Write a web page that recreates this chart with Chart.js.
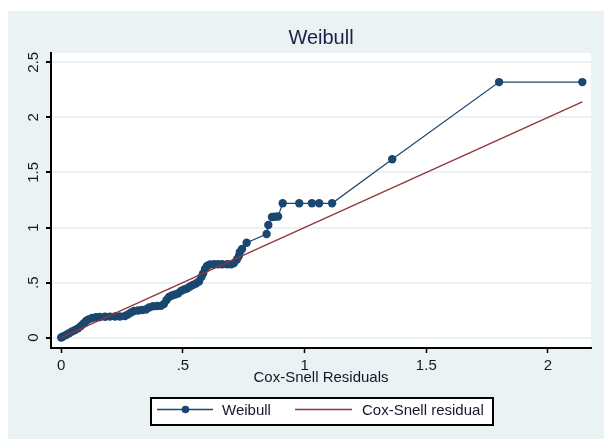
<!DOCTYPE html>
<html>
<head>
<meta charset="utf-8">
<script src="https://cdn.jsdelivr.net/npm/chart.js@4/dist/chart.umd.min.js"></script>
<style>
  html, body { margin: 0; padding: 0; background: #ffffff; }
  #wrap { width: 604px; height: 439px; position: relative; }
  canvas { display: block; }
</style>
</head>
<body>
<div id="wrap"><canvas id="c" width="604" height="439"></canvas></div>
<script>
// Cox-Snell residuals (x) and Nelson-Aalen cumulative hazard of the residuals (y)
const csResid = [
  0.000, 0.007, 0.020, 0.032, 0.044, 0.057, 0.069, 0.081, 0.092, 0.102,
  0.112, 0.127, 0.143, 0.159, 0.180, 0.200, 0.221, 0.241, 0.262, 0.274,
  0.287, 0.299, 0.316, 0.332, 0.348, 0.361, 0.377, 0.394, 0.410, 0.422,
  0.433, 0.443, 0.455, 0.468, 0.480, 0.492, 0.505, 0.517, 0.529, 0.541,
  0.554, 0.566, 0.576, 0.583, 0.591, 0.599, 0.611, 0.628, 0.644, 0.661,
  0.682, 0.698, 0.710, 0.722, 0.730, 0.734, 0.743, 0.762, 0.844, 0.851,
  0.866, 0.878, 0.891, 0.910, 0.978, 1.030, 1.060, 1.113, 1.360, 1.799,
  2.141
];
const cumHazard = [
  0.002, 0.011, 0.025, 0.040, 0.056, 0.070, 0.085, 0.106, 0.129, 0.152,
  0.165, 0.179, 0.185, 0.188, 0.190, 0.191, 0.192, 0.193, 0.197, 0.211,
  0.229, 0.242, 0.247, 0.251, 0.256, 0.274, 0.285, 0.288, 0.289, 0.306,
  0.342, 0.369, 0.383, 0.392, 0.401, 0.424, 0.437, 0.446, 0.465, 0.478,
  0.492, 0.510, 0.551, 0.583, 0.623, 0.651, 0.664, 0.666, 0.666, 0.666,
  0.666, 0.667, 0.678, 0.710, 0.741, 0.778, 0.805, 0.862, 0.941, 1.023,
  1.095, 1.098, 1.100, 1.220, 1.220, 1.220, 1.220, 1.220, 1.619, 2.320,
  2.320
];
// 45-degree reference line (residual against itself)
const refLineX = [0.000, 2.141];
const refLineY = [0.000, 2.141];

const xTicks = [0, 0.5, 1, 1.5, 2];
const yTicks = [0, 0.5, 1, 1.5, 2, 2.5];
const seriesNames = ['Weibull', 'Cox-Snell residual'];
const chartTitle = 'Weibull';
const xAxisTitle = 'Cox-Snell Residuals';

const FONT = "'Liberation Sans', Arial, Helvetica, sans-serif";
const NAVY = '#1a476f';
const MAROON = '#90353b';
const PANEL = '#eaf2f3';
const INK = '#16162a';

// Stata-style labels: drop the leading zero (".5")
const fmt = v => String(v).replace(/^0\./, '.');

const toPoints = (xs, ys) => xs.map((x, i) => ({ x: x, y: ys[i] }));

const decor = {
  id: 'decor',
  beforeDraw(chart) {
    const { ctx, chartArea: a } = chart;
    ctx.save();
    ctx.fillStyle = '#ffffff';
    ctx.fillRect(0, 0, chart.width, chart.height);
    ctx.fillStyle = PANEL;
    ctx.fillRect(8, 11, chart.width - 8, chart.height - 11);
    ctx.fillStyle = '#ffffff';
    ctx.fillRect(a.left, a.top, a.right - a.left, a.bottom - a.top);
    ctx.restore();
  },
  afterDraw(chart) {
    const { ctx, chartArea: a } = chart;
    const ys = chart.scales.y;
    ctx.save();

    // title
    ctx.fillStyle = '#1e1e46';
    ctx.font = '20px ' + FONT;
    ctx.textAlign = 'center';
    ctx.textBaseline = 'middle';
    ctx.fillText(chartTitle, (a.left + a.right) / 2, 38);

    // rotated y tick labels
    ctx.fillStyle = INK;
    ctx.font = '15px ' + FONT;
    ys.ticks.forEach(t => {
      const py = ys.getPixelForValue(t.value);
      ctx.save();
      ctx.translate(38, py);
      ctx.rotate(-Math.PI / 2);
      ctx.textAlign = 'center';
      ctx.textBaseline = 'alphabetic';
      ctx.fillText(fmt(t.value), 0, 0);
      ctx.restore();
    });

    // x axis title
    ctx.textAlign = 'center';
    ctx.textBaseline = 'middle';
    ctx.fillText(xAxisTitle, (a.left + a.right) / 2, 378);

    // legend
    const lx = 151, ly = 398, lw = 342, lh = 27;
    ctx.fillStyle = '#ffffff';
    ctx.fillRect(lx, ly, lw, lh);
    ctx.strokeStyle = '#000000';
    ctx.lineWidth = 2;
    ctx.strokeRect(lx, ly, lw, lh);

    const my = 409.5;
    ctx.strokeStyle = NAVY;
    ctx.lineWidth = 1.3;
    ctx.beginPath(); ctx.moveTo(157, my); ctx.lineTo(213, my); ctx.stroke();
    ctx.fillStyle = NAVY;
    ctx.beginPath(); ctx.arc(185.5, my, 3.8, 0, Math.PI * 2); ctx.fill();

    ctx.strokeStyle = MAROON;
    ctx.beginPath(); ctx.moveTo(295, my); ctx.lineTo(352, my); ctx.stroke();

    ctx.fillStyle = INK;
    ctx.font = '15px ' + FONT;
    ctx.textAlign = 'left';
    ctx.textBaseline = 'middle';
    ctx.fillText(seriesNames[0], 222, 411);
    ctx.fillText(seriesNames[1], 362, 411);

    ctx.restore();
  }
};

new Chart(document.getElementById('c'), {
  type: 'scatter',
  data: {
    datasets: [
      {
        label: seriesNames[0],
        data: toPoints(csResid, cumHazard),
        showLine: true,
        borderColor: NAVY,
        borderWidth: 1.2,
        backgroundColor: NAVY,
        pointRadius: 4.2,
        pointBorderWidth: 0,
        pointBackgroundColor: NAVY,
        order: 1
      },
      {
        label: seriesNames[1],
        data: toPoints(refLineX, refLineY),
        showLine: true,
        borderColor: MAROON,
        borderWidth: 1.3,
        pointRadius: 0,
        order: 0
      }
    ]
  },
  options: {
    responsive: false,
    animation: false,
    devicePixelRatio: 1,
    layout: { padding: { left: 0, top: 53, right: 13, bottom: 0 }, autoPadding: false },
    plugins: { legend: { display: false }, title: { display: false }, tooltip: { enabled: false } },
    scales: {
      x: {
        type: 'linear',
        min: -0.0419,
        max: 2.1767,
        afterBuildTicks: s => { s.ticks = xTicks.map(v => ({ value: v })); },
        afterFit: s => { s.height = 91; },
        ticks: {
          callback: v => fmt(v),
          font: { family: FONT, size: 15 },
          color: INK,
          padding: 4,
          maxRotation: 0,
          autoSkip: false
        },
        grid: { drawOnChartArea: false, drawTicks: true, tickLength: 5, tickColor: '#000', tickWidth: 1.5 },
        border: { display: true, color: '#000', width: 2 }
      },
      y: {
        type: 'linear',
        min: -0.0935,
        max: 2.584,
        afterBuildTicks: s => { s.ticks = yTicks.map(v => ({ value: v })); },
        afterFit: s => { s.width = 51; },
        ticks: { display: false },
        grid: { color: PANEL, lineWidth: 2, drawTicks: true, tickLength: 5, tickColor: '#000', tickWidth: 2 },
        border: { display: true, color: '#000', width: 2 }
      }
    }
  },
  plugins: [decor]
});
</script>
</body>
</html>
